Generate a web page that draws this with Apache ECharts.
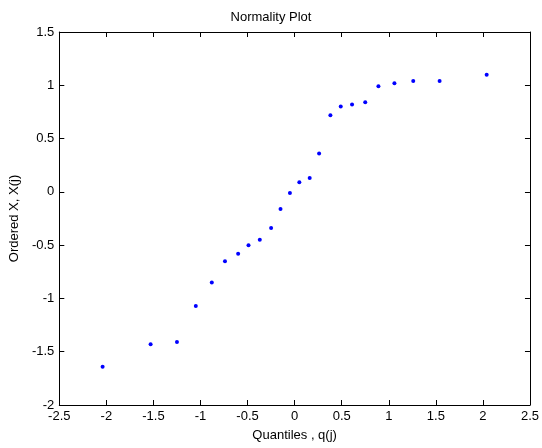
<!DOCTYPE html>
<html>
<head>
<meta charset="utf-8">
<script src="https://cdn.jsdelivr.net/npm/echarts@6/dist/echarts.min.js"></script>
<style>
html,body{margin:0;padding:0;background:#fff;}
#main{width:542px;height:448px;}
</style>
</head>
<body>
<div id="main"></div>
<script>
// quantiles q(j) and ordered values X(j)
var quantiles = [-2.04, -1.53, -1.25, -1.05, -0.88, -0.74, -0.60, -0.49, -0.37, -0.25, -0.15, -0.05,
                 0.05, 0.16, 0.26, 0.38, 0.49, 0.61, 0.75, 0.89, 1.06, 1.26, 1.54, 2.04];
var ordered = [-1.64, -1.43, -1.41, -1.07, -0.85, -0.65, -0.58, -0.50, -0.45, -0.34, -0.16, -0.01,
               0.09, 0.13, 0.36, 0.72, 0.80, 0.82, 0.84, 0.99, 1.02, 1.04, 1.04, 1.10];

var font = 'Liberation Sans, Arial, sans-serif';

var pts = [];
for (var i = 0; i < quantiles.length; i++) {
	pts.push([quantiles[i], ordered[i]]);
}

var myChart = echarts.init(document.getElementById('main'), null, {renderer: 'canvas'});

// ticks inside on all four sides, like matlab
function boxAxis(pos, showLabel, name) {
	return {
		type: 'value',
		position: pos,
		min: pos == 'bottom' || pos == 'top' ? -2.5 : -2,
		max: pos == 'bottom' || pos == 'top' ? 2.5 : 1.5,
		interval: 0.5,
		name: name || '',
		nameLocation: 'middle',
		nameTextStyle: {color: '#000', fontFamily: font, fontSize: 13},
		axisLine: {show: true, onZero: false, lineStyle: {color: '#000', width: 1}},
		axisTick: {show: true, inside: true, length: 5, lineStyle: {color: '#000'}},
		axisLabel: {show: showLabel, color: '#000', fontFamily: font, fontSize: 13, margin: 5,
			showMinLabel: true, showMaxLabel: true,
			formatter: function (v) { return String(+v.toFixed(1)); }},
		splitLine: {show: false}
	};
}

var xb = boxAxis('bottom', true, 'Quantiles , q(j)');
xb.nameGap = 24;
var yl = boxAxis('left', true, 'Ordered X, X(j)');
yl.nameGap = 36;

var option = {
	backgroundColor: '#fff',
	animation: false,
	title: {
		text: 'Normality Plot',
		left: 'center',
		top: 6,
		textStyle: {color: '#000', fontFamily: font, fontSize: 13, fontWeight: 'normal'}
	},
	grid: {left: 58, right: 11, top: 32, bottom: 43},
	xAxis: [xb, boxAxis('top', false)],
	yAxis: [yl, boxAxis('right', false)],
	series: [
		{
			type: 'scatter',
			xAxisIndex: 0,
			yAxisIndex: 0,
			symbol: 'circle',
			symbolSize: 4,
			itemStyle: {color: '#0000ff', opacity: 1},
			data: pts
		}
	]
};
myChart.setOption(option);
</script>
</body>
</html>
